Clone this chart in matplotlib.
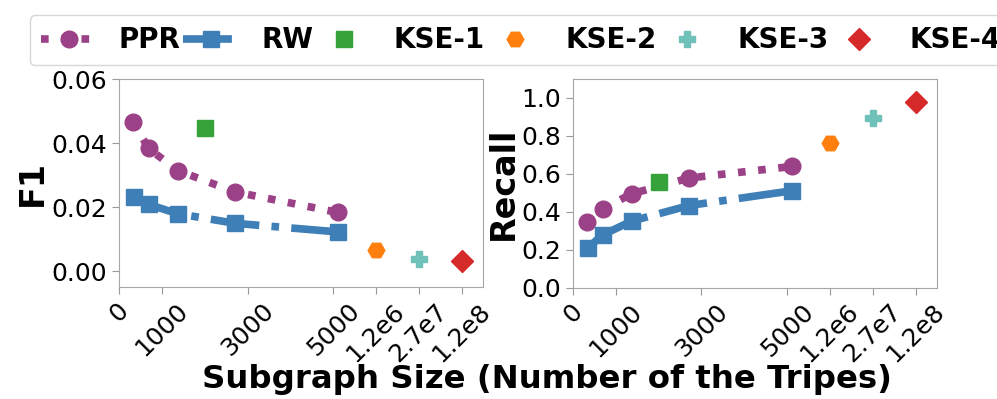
import matplotlib
matplotlib.use("Agg")
import matplotlib.pyplot as plt

# subgraph sizes (x positions on the axis)
x_ppr = [330, 690, 1370, 2710, 5110]
x_rw = [340, 690, 1370, 2710, 5120]
x_kse = [2000, 6000, 7000, 8000]   # KSE-2..4 sit on the 1.2e6 / 2.7e7 / 1.2e8 slots

f1_ppr = [0.0466, 0.0383, 0.0314, 0.0247, 0.0183]
f1_rw = [0.0232, 0.0208, 0.0179, 0.0149, 0.0122]
f1_kse = [0.0446, 0.0066, 0.0037, 0.0031]

rec_ppr = [0.345, 0.414, 0.495, 0.578, 0.639]
rec_rw = [0.208, 0.278, 0.351, 0.433, 0.511]
rec_kse = [0.555, 0.761, 0.896, 0.981]

xtick_pos = [0, 1000, 3000, 5000, 6000, 7000, 8000]
xtick_labels = ['0', '1000', '3000', '5000', '1.2e6', '2.7e7', '1.2e8']

kse_names = ['KSE-1', 'KSE-2', 'KSE-3', 'KSE-4']
kse_colors = ['#35a23a', '#ff7f0e', '#70c1b9', '#d62a2a']
kse_markers = ['s', 'H', 'P', 'D']
kse_sizes = [12, 12, 12, 11]

purple = '#9b4187'
blue = '#3f7fb7'

fig = plt.figure(figsize=(9.97, 3.99), dpi=100)
ax1 = fig.add_axes([0.1194, 0.2807, 0.3651, 0.5213])
ax2 = fig.add_axes([0.5747, 0.2790, 0.3651, 0.5230])


def draw(ax, ppr, rw, kse):
    ax.plot(x_ppr, ppr, linestyle=':', color=purple, lw=5.5, marker='o', ms=12, label='PPR')
    ax.plot(x_rw, rw, linestyle='-.', color=blue, lw=5.5, marker='s', ms=12, label='RW')
    for i in range(len(kse)):
        ax.plot(x_kse[i], kse[i], linestyle='none', marker=kse_markers[i], ms=kse_sizes[i],
                color=kse_colors[i], label=kse_names[i])
    ax.set_xlim(0, 8500)
    ax.set_xticks(xtick_pos)
    ax.set_xticklabels(xtick_labels, rotation=45, fontsize=18)
    ax.tick_params(axis='y', labelsize=18)
    ax.tick_params(colors='0.6', labelcolor='black', length=5)
    for s in ax.spines.values():
        s.set_color('0.65')


draw(ax1, f1_ppr, f1_rw, f1_kse)
ax1.set_ylim(-0.005, 0.06)
ax1.set_yticks([0.0, 0.02, 0.04, 0.06])
ax1.set_yticklabels(['0.00', '0.02', '0.04', '0.06'])
ax1.set_ylabel('F1', fontsize=24, fontweight='bold')
ax1.yaxis.set_label_coords(-0.192, 0.5)

draw(ax2, rec_ppr, rec_rw, rec_kse)
ax2.set_ylim(0, 1.1)
ax2.set_yticks([0.0, 0.2, 0.4, 0.6, 0.8, 1.0])
ax2.set_yticklabels(['0.0', '0.2', '0.4', '0.6', '0.8', '1.0'])
ax2.set_ylabel('Recall', fontsize=24, fontweight='bold')
ax2.yaxis.set_label_coords(-0.146, 0.5)

fig.text(0.549, 0.049, 'Subgraph Size (Number of the Tripes)', fontsize=23.3,
         fontweight='bold', ha='center', va='center')

h, l = ax1.get_legend_handles_labels()
fig.legend(h, l, loc='upper left', bbox_to_anchor=(0.03, 0.962), ncol=6,
           prop={'size': 20, 'weight': 'bold'}, columnspacing=0.1, handlelength=2,
           handletextpad=0.8, borderaxespad=0)

fig.savefig('out.png', dpi=100)
